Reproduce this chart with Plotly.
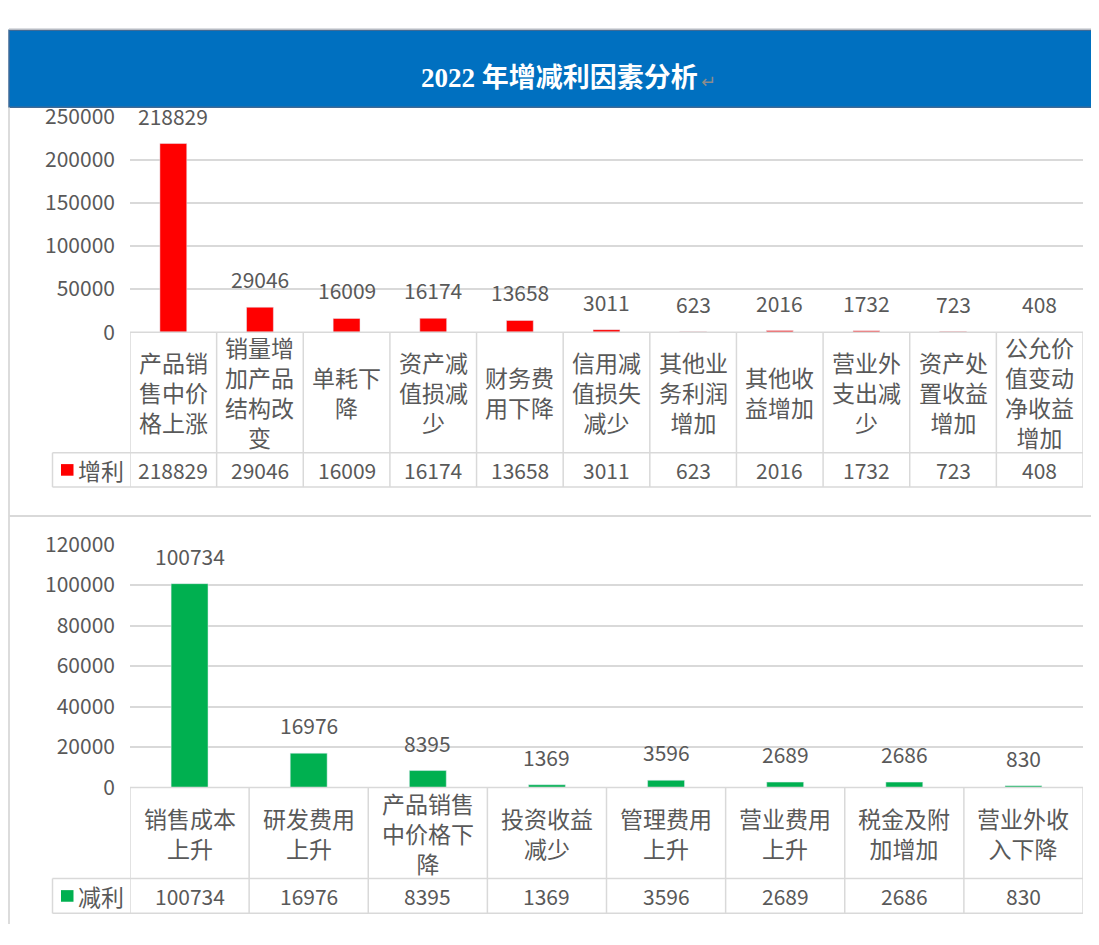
import plotly.graph_objects as go

# The page body adds an 8px margin, so the figure is laid out in page pixels minus 8.
PAGE_W, PAGE_H = 1099, 945
OFF = 8
W, H = PAGE_W - OFF, PAGE_H - 2 * OFF

# ---------------- data ----------------
title_text = "2022 年增减利因素分析"
inc_name = "增利"
dec_name = "减利"
inc_categories = ["产品销售中价格上涨", "销量增加产品结构改变", "单耗下降", "资产减值损减少",
                  "财务费用下降", "信用减值损失减少", "其他业务利润增加", "其他收益增加",
                  "营业外支出减少", "资产处置收益增加", "公允价值变动净收益增加"]
inc_values = [218829, 29046, 16009, 16174, 13658, 3011, 623, 2016, 1732, 723, 408]
dec_categories = ["销售成本上升", "研发费用上升", "产品销售中价格下降", "投资收益减少",
                  "管理费用上升", "营业费用上升", "税金及附加增加", "营业外收入下降"]
dec_values = [100734, 16976, 8395, 1369, 3596, 2689, 2686, 830]
inc_ticks = [0, 50000, 100000, 150000, 200000, 250000]
dec_ticks = [0, 20000, 40000, 60000, 80000, 100000, 120000]

# ---------------- style ----------------
RED = "#FF0000"
GREEN = "#00B050"
BLUE = "#0070C0"
GRID = "#D9D9D9"
TXT = "#595959"
FONT = "Noto Sans CJK SC"
NUM_SIZE = 21
CJK_SIZE = 23


def px(x):
    return (x - OFF) / W


def py(y):
    return 1 - (y - OFF) / H


def wrap(s, n):
    return "<br>".join(s[i:i + n] for i in range(0, len(s), n))


fig = go.Figure()
shapes = []
annotations = []

# panels: (values, categories, name, color, ticks, y_zero_px, y_top_px, cat_bottom_px, data_bottom_px, chars/line, axis suffix)
panels = [
    (inc_values, inc_categories, inc_name, RED, inc_ticks, 325.5, 102.7, 450, 485.5, 3, ""),
    (dec_values, dec_categories, dec_name, GREEN, dec_ticks, 796, 545, 890, 926, 4, "2"),
]

X_LEFT, X_RIGHT, LEG_LEFT = 130, 1083, 52.5

for vals, cats, name, color, ticks, y0p, ytp, ycb, ydb, nch, sfx in panels:
    n = len(vals)
    xa = "x" + sfx
    ya = "y" + sfx
    fig.add_trace(go.Bar(x=list(range(n)), y=vals, marker_color=color, width=0.31,
                         xaxis=xa, yaxis=ya, name=name, showlegend=False,
                         hoverinfo="x+y"))
    fig.update_layout(**{
        "xaxis" + sfx: dict(domain=[px(X_LEFT), px(X_RIGHT)], range=[-0.5, n - 0.5],
                            showgrid=False, zeroline=False, showline=False,
                            showticklabels=False, anchor=ya, fixedrange=True),
        "yaxis" + sfx: dict(domain=[py(y0p), py(ytp)], range=[0, ticks[-1]],
                            tickvals=ticks, ticktext=[str(t) for t in ticks],
                            showgrid=True, gridcolor=GRID, gridwidth=1.5,
                            zeroline=False, showline=False, ticks="",
                            ticklabelstandoff=14,
                            tickfont=dict(family=FONT, size=NUM_SIZE, color=TXT),
                            anchor=xa, fixedrange=True),
    })
    # data labels above bars
    for i, v in enumerate(vals):
        annotations.append(dict(x=i, y=v, xref=xa, yref=ya, text=str(v), showarrow=False,
                                yshift=28, yanchor="middle",
                                font=dict(family=FONT, size=NUM_SIZE, color=TXT)))
    # data table lines
    line = dict(color=GRID, width=1.5)
    shapes.append(dict(type="line", xref="paper", yref="paper", x0=px(X_LEFT), x1=px(X_RIGHT),
                       y0=py(y0p), y1=py(y0p), line=line))
    for yy in (ycb, ydb):
        shapes.append(dict(type="line", xref="paper", yref="paper", x0=px(LEG_LEFT), x1=px(X_RIGHT),
                           y0=py(yy), y1=py(yy), line=line))
    shapes.append(dict(type="line", xref="paper", yref="paper", x0=px(LEG_LEFT), x1=px(LEG_LEFT),
                       y0=py(ycb), y1=py(ydb), line=line))
    for k in range(n + 1):
        shapes.append(dict(type="line", xref=xa, yref="paper", x0=k - 0.5, x1=k - 0.5,
                           y0=py(y0p), y1=py(ydb), line=line))
    # category labels & values in table
    for i, c in enumerate(cats):
        annotations.append(dict(x=i, y=py((y0p + ycb) / 2), xref=xa, yref="paper",
                                text=wrap(c, nch), showarrow=False, yanchor="middle",
                                align="center",
                                font=dict(family=FONT, size=CJK_SIZE, color=TXT)))
        annotations.append(dict(x=i, y=py((ycb + ydb) / 2), xref=xa, yref="paper",
                                text=str(vals[i]), showarrow=False, yanchor="middle",
                                font=dict(family=FONT, size=NUM_SIZE, color=TXT)))
    # legend key cell
    ym = (ycb + ydb) / 2
    shapes.append(dict(type="rect", xref="paper", yref="paper", x0=px(61), x1=px(73.5),
                       y0=py(ym + 6), y1=py(ym - 6), fillcolor=color, line=dict(width=0)))
    annotations.append(dict(x=px(76), y=py(ym), xref="paper", yref="paper", text=name,
                            showarrow=False, xanchor="left", yanchor="middle",
                            font=dict(family=FONT, size=CJK_SIZE, color=TXT)))

# header band
shapes.append(dict(type="line", xref="paper", yref="paper", x0=px(9), x1=1,
                   y0=py(12.5), y1=py(12.5), line=dict(color="#B8BCC4", width=1.5)))
shapes.append(dict(type="rect", xref="paper", yref="paper", x0=px(9), x1=px(1101),
                   y0=py(93), y1=py(13.5), fillcolor=BLUE,
                   line=dict(color="#3F6A96", width=1.5), layer="below"))
# outer frame lines
shapes.append(dict(type="line", xref="paper", yref="paper", x0=px(9), x1=px(9),
                   y0=py(93), y1=0, line=dict(color="#D0D0D0", width=1.5)))
shapes.append(dict(type="line", xref="paper", yref="paper", x0=px(9), x1=1,
                   y0=py(515.5), y1=py(515.5), line=dict(color="#D9D9D9", width=2)))

annotations.append(dict(x=px(559), y=py(63), xref="paper", yref="paper", text="<b>" + title_text + "</b>",
                        showarrow=False, xanchor="center", yanchor="middle",
                        font=dict(family="Liberation Serif, Noto Sans CJK SC", size=27, color="white")))
annotations.append(dict(x=px(699), y=py(66), xref="paper", yref="paper", text="↵",
                        showarrow=False, xanchor="left", yanchor="middle",
                        font=dict(family="DejaVu Sans", size=18, color="#8C8C8C")))

fig.update_layout(width=W, height=H, margin=dict(l=0, r=0, t=0, b=0),
                  paper_bgcolor="white", plot_bgcolor="white",
                  shapes=shapes, annotations=annotations, showlegend=False,
                  bargap=0.69)

fig.write_html("out.html")
